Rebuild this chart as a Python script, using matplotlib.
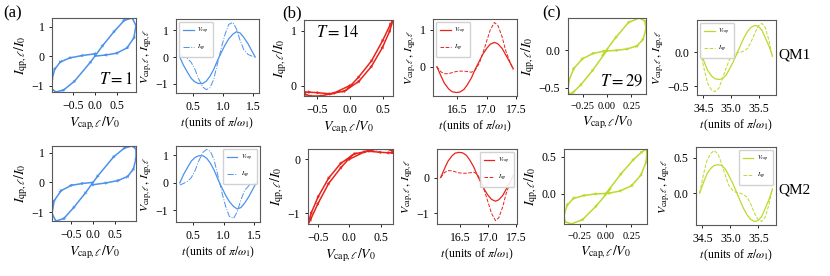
import numpy as np
import matplotlib
matplotlib.use("Agg")
matplotlib.rcParams.update({
    'font.family': 'serif',
    'font.serif': ['Liberation Serif', 'DejaVu Serif'],
    'mathtext.fontset': 'stix',
    'font.size': 8,
    'axes.linewidth': 0.8,
    'axes.edgecolor': '0.35',
    'xtick.labelsize': 8.5,
    'ytick.labelsize': 8.5,
    'xtick.major.size': 2,
    'ytick.major.size': 2,
    'xtick.major.width': 0.6,
    'ytick.major.width': 0.6,
})
import matplotlib.pyplot as plt

# colours per temperature column
C_A = '#4d92ea'
C_B = '#e8241c'
C_C = '#bada2e'

# ---- (a) T = 1 -------------------------------------------------------------
t_a = [0.28, 0.34, 0.41, 0.47, 0.53, 0.59, 0.66, 0.72, 0.78, 0.84, 0.91,
       0.97, 1.03, 1.09, 1.16, 1.22, 1.28, 1.34, 1.41, 1.47, 1.53]
v_a1 = [0.00, -0.30, -0.58, -0.80, -0.93, -0.99, -0.99, -0.90, -0.72, -0.47, -0.10,
        0.18, 0.45, 0.68, 0.86, 0.95, 0.90, 0.74, 0.50, 0.25, 0.00]
i_a1 = [0.08, 0.02, -0.06, -0.20, -0.45, -0.80, -1.12, -1.22, -1.15, -0.85, -0.20,
        0.36, 0.85, 1.22, 1.30, 1.05, 0.62, 0.28, 0.10, 0.04, 0.00]
v_a2 = [0.00, 0.30, 0.58, 0.80, 0.93, 0.99, 0.99, 0.90, 0.72, 0.47, 0.10,
        -0.18, -0.45, -0.68, -0.86, -0.95, -0.90, -0.74, -0.50, -0.25, 0.00]
i_a2 = [-0.08, -0.02, 0.06, 0.20, 0.45, 0.80, 1.12, 1.22, 1.15, 0.85, 0.20,
        -0.36, -0.85, -1.22, -1.30, -1.05, -0.62, -0.28, -0.10, -0.04, 0.00]

# ---- (b) T = 14 ------------------------------------------------------------
t_b = [16.15, 16.22, 16.28, 16.35, 16.41, 16.48, 16.54, 16.61, 16.67, 16.74, 16.80,
       16.87, 16.93, 17.00, 17.06, 17.13, 17.19, 17.26, 17.32, 17.39, 17.45]
v_b1 = [0.00, -0.25, -0.45, -0.60, -0.68, -0.70, -0.69, -0.62, -0.49, -0.30, -0.08,
        0.14, 0.33, 0.50, 0.61, 0.66, 0.62, 0.50, 0.33, 0.13, -0.05]
i_b1 = [0.00, -0.14, -0.19, -0.19, -0.16, -0.13, -0.12, -0.12, -0.13, -0.15, -0.10,
        0.08, 0.35, 0.70, 1.00, 1.20, 1.12, 0.82, 0.45, 0.15, -0.08]
v_b2 = [0.00, 0.25, 0.45, 0.60, 0.68, 0.70, 0.69, 0.62, 0.49, 0.30, 0.08,
        -0.14, -0.33, -0.50, -0.61, -0.66, -0.62, -0.50, -0.33, -0.13, 0.05]
i_b2 = [0.00, 0.14, 0.19, 0.19, 0.16, 0.13, 0.12, 0.12, 0.13, 0.15, 0.10,
        -0.08, -0.35, -0.70, -1.00, -1.20, -1.12, -0.82, -0.45, -0.15, 0.08]

# ---- (c) T = 29 ------------------------------------------------------------
t_c = [34.45, 34.52, 34.58, 34.65, 34.71, 34.78, 34.84, 34.91, 34.97, 35.04, 35.10,
       35.17, 35.23, 35.30, 35.36, 35.43, 35.49, 35.56, 35.62, 35.69, 35.75]
v_c1 = [0.00, -0.15, -0.27, -0.35, -0.39, -0.40, -0.39, -0.34, -0.25, -0.14, -0.03,
        0.10, 0.21, 0.31, 0.37, 0.40, 0.39, 0.33, 0.22, 0.09, -0.05]
i_c1 = [0.00, -0.27, -0.46, -0.56, -0.58, -0.53, -0.40, -0.24, -0.11, -0.04, -0.01,
        0.00, 0.02, 0.06, 0.15, 0.28, 0.39, 0.43, 0.37, 0.17, -0.07]
v_c2 = [0.00, 0.15, 0.27, 0.35, 0.39, 0.40, 0.39, 0.34, 0.25, 0.14, 0.03,
        -0.10, -0.21, -0.31, -0.37, -0.40, -0.39, -0.33, -0.22, -0.09, 0.05]
i_c2 = [0.00, 0.27, 0.46, 0.56, 0.60, 0.55, 0.42, 0.25, 0.11, 0.04, 0.01,
        0.00, -0.02, -0.06, -0.15, -0.28, -0.37, -0.40, -0.34, -0.16, 0.07]

# tick positions per panel
loop_xt_ab = [-0.5, 0.0, 0.5]
loop_xt_c = [-0.25, 0.0, 0.25]
yt_a = [-1, 0, 1]
yt_b1, yt_b2 = [0, 1], [-1, 0]
yt_c1, yt_c2 = [-0.5, 0.0], [0.0, 0.5]
tt_a = [0.5, 1.0, 1.5]
tt_b = [16.5, 17.0, 17.5]
tt_c = [34.5, 35.0, 35.5]

LOOP_XL = r'$V_{\mathrm{cap},\ell}/V_0$'
LOOP_YL = r'$I_{\mathrm{qp},\ell}/I_0$'
TR_XL = r'$t\,$(units of $\pi/\omega_1$)'
TR_YL = r'$V_{\mathrm{cap},\ell},\,I_{\mathrm{qp},\ell}$'


def loop_panel(ax, v, i, c, xt, yt, xtick_fs=8.5):
    v = np.asarray(v)
    i = np.asarray(i)
    ax.plot(v, i, '-', color=c, lw=1.1)
    # direction arrows along the loop
    du = np.diff(v)
    dv = np.diff(i)
    n = np.hypot(du, dv)
    n[n == 0] = 1
    ax.quiver(v[:-1], i[:-1], du / n, dv / n, angles='xy', scale_units='inches',
              scale=1 / 0.055, units='dots', width=0.7, headwidth=5, headlength=6,
              headaxislength=5, color=c, pivot='mid')
    ax.margins(0)
    ax.set_xticks(xt)
    ax.set_yticks(yt)
    ax.tick_params(axis='x', labelsize=xtick_fs)
    ax.set_xlabel(LOOP_XL, fontsize=10, labelpad=2)
    ax.set_ylabel(LOOP_YL, fontsize=10, labelpad=1)


def trace_panel(ax, t, v, i, c, xt, yt, ls, loc):
    ax.plot(t, v, '-', color=c, lw=0.9, label=r'$V_{cap}$')
    ax.plot(t, i, ls, color=c, lw=0.7, label=r'$I_{qp}$')
    ax.set_xticks(xt)
    ax.set_yticks(yt)
    ax.set_xlabel(TR_XL, fontsize=8.5, labelpad=2)
    ax.set_ylabel(TR_YL, fontsize=8.5, labelpad=1)
    ax.legend(loc=loc, fontsize=4.5, handlelength=1.7, labelspacing=1.1,
              borderpad=0.6, handletextpad=0.6, framealpha=0.9)


W, H = 830, 276


def box(x0, y0, x1, y1):
    return [x0 / W, 1 - y1 / H, (x1 - x0) / W, (y1 - y0) / H]


fig = plt.figure(figsize=(8.3, 2.76), dpi=100)

# top row (QM1)
ax = fig.add_axes(box(52, 18, 136, 92))
loop_panel(ax, v_a1, i_a1, C_A, loop_xt_ab, yt_a)
ax.text(0.96, 0.06, r'$T=1$', transform=ax.transAxes, ha='right', va='bottom', fontsize=12)
ax = fig.add_axes(box(176, 19, 259, 93))
trace_panel(ax, t_a, v_a1, i_a1, C_A, tt_a, yt_a, '-.', 'upper left')

ax = fig.add_axes(box(304, 20, 393, 96))
loop_panel(ax, v_b1, i_b1, C_B, loop_xt_ab, yt_b1)
ax.text(0.14, 0.83, r'$T=14$', transform=ax.transAxes, ha='left', va='center', fontsize=12)
ax = fig.add_axes(box(433, 19, 517, 96))
trace_panel(ax, t_b, v_b1, i_b1, C_B, tt_b, yt_b1, '--', 'upper left')

ax = fig.add_axes(box(568, 18, 646, 94))
loop_panel(ax, v_c1, i_c1, C_C, loop_xt_c, yt_c1, xtick_fs=7.5)
ax.text(0.96, 0.06, r'$T=29$', transform=ax.transAxes, ha='right', va='bottom', fontsize=12)
ax = fig.add_axes(box(697, 20, 776, 95))
trace_panel(ax, t_c, v_c1, i_c1, C_C, tt_c, yt_c1, '--', 'upper left')

# bottom row (QM2)
ax = fig.add_axes(box(52, 146, 136, 221))
loop_panel(ax, v_a2, i_a2, C_A, loop_xt_ab, yt_a)
ax = fig.add_axes(box(176, 146, 260, 222))
trace_panel(ax, t_a, v_a2, i_a2, C_A, tt_a, yt_a, '-.', 'upper right')

ax = fig.add_axes(box(308, 149, 393, 224))
loop_panel(ax, v_b2, i_b2, C_B, loop_xt_ab, yt_b2)
ax = fig.add_axes(box(437, 149, 517, 224))
trace_panel(ax, t_b, v_b2, i_b2, C_B, tt_b, yt_b2, '--', 'upper right')

ax = fig.add_axes(box(564, 149, 647, 224))
loop_panel(ax, v_c2, i_c2, C_C, loop_xt_c, yt_c2, xtick_fs=7.5)
ax = fig.add_axes(box(696, 147, 776, 225))
trace_panel(ax, t_c, v_c2, i_c2, C_C, tt_c, yt_c2, '--', 'upper right')

fig.text(0.004, 0.95, '(a)', fontsize=12, va='center', ha='left')
fig.text(0.340, 0.95, '(b)', fontsize=12, va='center', ha='left')
fig.text(0.653, 0.95, '(c)', fontsize=12, va='center', ha='left')
fig.text(0.938, 0.80, 'QM1', fontsize=11, va='center', ha='left')
fig.text(0.938, 0.31, 'QM2', fontsize=11, va='center', ha='left')

fig.savefig('out.png', dpi=100)
